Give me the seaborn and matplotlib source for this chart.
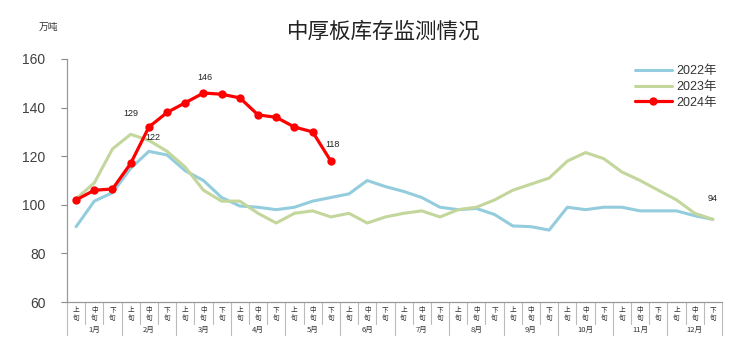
import numpy as np
import pandas as pd
import matplotlib
matplotlib.use("Agg")
import matplotlib.pyplot as plt
import matplotlib.transforms as mtransforms
import seaborn as sns

# ---------------- data ----------------
months = [f"{m}月" for m in range(1, 13)]
periods = ["上\n旬", "中\n旬", "下\n旬"]
series_names = ["2022年", "2023年", "2024年"]
inv_2022 = [91, 101.5, 105, 115, 122, 120.5, 114, 110, 103, 99.5, 99, 98,
            99, 101.5, 103, 104.5, 110, 107.5, 105.5, 103, 99, 98, 98.5, 96,
            91.3, 91, 89.6, 99, 98, 99, 99, 97.5, 97.5, 97.5, 95.5, 94]
inv_2023 = [102.5, 109, 123, 129, 126.5, 122, 115.5, 106, 101.5, 101.5, 96.5, 92.5,
            96.5, 97.5, 95, 96.5, 92.5, 95, 96.5, 97.5, 95, 98, 99, 102,
            106, 108.5, 111, 118, 121.5, 119, 113.5, 110, 106, 102, 96.5, 94]
inv_2024 = [102, 106, 106.5, 117, 132, 138, 142, 146, 145.5, 144, 137, 136, 132, 130, 118]
# data labels: (series index, point index)
label_points = [(0, 4), (1, 3), (1, 35), (2, 7), (2, 14)]
y_ticks = [60, 80, 100, 120, 140, 160]

# ---------------- style ----------------
sns.set_theme(style="white")
plt.rcParams["font.family"] = ["Liberation Sans", "Noto Sans CJK SC", "DejaVu Sans"]

colors = ["#93CDDD", "#C3D69B", "#FF0000"]
values = [inv_2022, inv_2023, inv_2024]

fig = plt.figure(figsize=(7.56, 3.50), dpi=100)
ax = fig.add_axes([67 / 756, 1 - 302 / 350, 655 / 756, 243 / 350])

for name, vals, c in zip(series_names, values, colors):
    df = pd.DataFrame({"x": np.arange(len(vals)), "y": vals})
    if name == "2024年":
        sns.lineplot(data=df, x="x", y="y", ax=ax, color=c, lw=2.3, label=name,
                     marker="o", markersize=6, markeredgewidth=0, zorder=5)
    else:
        sns.lineplot(data=df, x="x", y="y", ax=ax, color=c, lw=2.2, label=name, zorder=3)

# data labels
offsets = {(0, 4): (3, 7), (1, 3): (0, 12), (1, 35): (0, 12), (2, 7): (1, 8), (2, 14): (1, 9)}
for si, pi in label_points:
    v = values[si][pi]
    ax.annotate(f"{v:.0f}", (pi, v), textcoords="offset points", xytext=offsets[(si, pi)],
                ha="center", va="bottom", fontsize=6.5, color="#222222", zorder=6)

n = len(months) * len(periods)
ax.set_xlim(-0.5, n - 0.5)
ax.set_ylim(y_ticks[0], y_ticks[-1])
ax.set_yticks(y_ticks)
ax.set_yticklabels([str(t) for t in y_ticks], fontsize=10, color="#404040")
ax.tick_params(axis="y", direction="out", length=4, width=0.8, color="#888888", pad=11.5, left=True)

ax.set_xticks(np.arange(n))
ax.set_xticklabels(periods * len(months), fontsize=4.8, color="#333333",
                   family=["Noto Sans CJK SC"], linespacing=1.0)
ax.tick_params(axis="x", length=0, pad=3)
ax.set_xlabel("")
ax.set_ylabel("")

for s in ["top", "right"]:
    ax.spines[s].set_visible(False)
for s in ["left", "bottom"]:
    ax.spines[s].set_color("#999999")
    ax.spines[s].set_linewidth(0.9)

# category separators
trans = mtransforms.blended_transform_factory(ax.transData, ax.transAxes)
for i in range(n + 1):
    depth = -33 / 243 if i % 3 == 0 else -22 / 243
    ax.plot([i - 0.5, i - 0.5], [0, depth], transform=trans, color="#BBBBBB",
            lw=0.8, clip_on=False)
for m, lab in enumerate(months):
    ax.text(3 * m + 1, -28 / 243, lab, transform=trans, ha="center", va="center",
            fontsize=5.5, color="#333333", family=["Noto Sans CJK SC"])

leg = ax.legend(loc="upper left", bbox_to_anchor=(0.86, 0.995), frameon=False,
                fontsize=9, handlelength=2.9, handletextpad=0.4, labelspacing=0.3,
                borderaxespad=0)
for t in leg.get_texts():
    t.set_color("#333333")

fig.text(0.507, 0.909, "中厚板库存监测情况", ha="center", va="center", fontsize=15.5,
         color="#222222", family=["Noto Sans CJK SC"])
fig.text(0.064, 0.923, "万吨", ha="center", va="center", fontsize=7,
         color="#333333", family=["Noto Sans CJK SC"])

fig.savefig("out.png", dpi=100, facecolor="white")
